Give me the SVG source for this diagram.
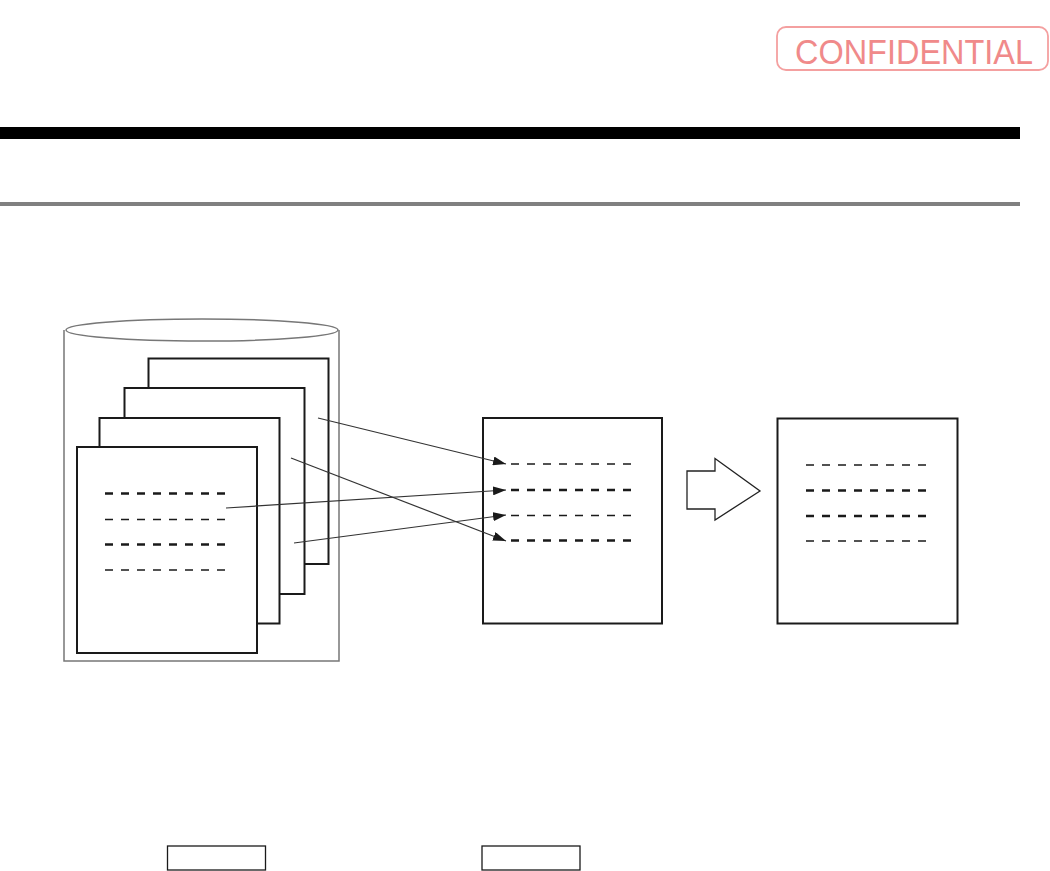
<svg xmlns="http://www.w3.org/2000/svg" width="1050" height="871" viewBox="0 0 1050 871">
<style>
.page{fill:#fff;stroke:#1a1a1a;stroke-width:2}
.thin{stroke:#1a1a1a;stroke-width:1.5;stroke-dasharray:8 8;fill:none}
.thick{stroke:#1a1a1a;stroke-width:2.4;stroke-dasharray:8 8;fill:none}
.conn{stroke:#333;stroke-width:1.2;fill:none;marker-end:url(#ah)}
.box{fill:#fff;stroke:#1a1a1a;stroke-width:1.3}
</style>
<defs>
<marker id="ah" viewBox="0 0 13 9" refX="13" refY="4.5" markerWidth="13" markerHeight="9" markerUnits="userSpaceOnUse" orient="auto">
<path d="M0,0 L13,4.5 L0,9 z" fill="#1a1a1a"/>
</marker>
</defs>
<rect width="1050" height="871" fill="#fff"/>
<g id="confidential">
<rect x="777" y="27" width="271" height="43" rx="9" ry="9" fill="none" stroke="#f4a0a0" stroke-width="1.8"/>
<text x="795" y="63.5" font-family="Liberation Sans, Arial, sans-serif" font-size="35" fill="#f08a8a" textLength="238" lengthAdjust="spacingAndGlyphs">CONFIDENTIAL</text>
</g>
<g id="header">
<rect x="0" y="127" width="1020" height="12" fill="#000"/>
<rect x="0" y="202" width="1020" height="4" fill="#808080"/>
</g>
<g id="database">
<path d="M64,330 L64,661 L339,661 L339,330" fill="#fff" stroke="#777" stroke-width="1.5"/>
<ellipse cx="202" cy="330" rx="136" ry="11" fill="#fff" stroke="#777" stroke-width="1.5"/>
</g>
<g id="page4"><rect class="page" x="148.5" y="358.5" width="180" height="205.5"/></g>
<g id="page3"><rect class="page" x="124.5" y="388" width="180" height="206"/></g>
<g id="page2"><rect class="page" x="99.5" y="418" width="180" height="205.5"/></g>
<g id="page1">
<rect class="page" x="77" y="447" width="180" height="206"/>
<line class="thick" x1="105" y1="493.5" x2="225" y2="493.5"/>
<line class="thin" x1="105" y1="519.5" x2="225" y2="519.5"/>
<line class="thick" x1="105" y1="544.5" x2="225" y2="544.5"/>
<line class="thin" x1="105" y1="570" x2="225" y2="570"/>
</g>
<g id="middle-page">
<rect class="page" x="483" y="418" width="179" height="205.5"/>
<line class="thin" x1="511" y1="464" x2="631" y2="464"/>
<line class="thick" x1="511" y1="490" x2="631" y2="490"/>
<line class="thin" x1="511" y1="515.5" x2="631" y2="515.5"/>
<line class="thick" x1="511" y1="540.5" x2="631" y2="540.5"/>
</g>
<g id="block-arrow">
<polygon points="687,471 715,471 715,458.5 760,491 715,520 715,509 687,509" fill="#fff" stroke="#222" stroke-width="1.3"/>
</g>
<g id="right-page">
<rect class="page" x="777.5" y="418.5" width="180" height="205"/>
<line class="thin" x1="806" y1="465" x2="926" y2="465"/>
<line class="thick" x1="806" y1="490.5" x2="926" y2="490.5"/>
<line class="thick" x1="806" y1="516" x2="926" y2="516"/>
<line class="thin" x1="806" y1="541" x2="926" y2="541"/>
</g>
<g id="connectors">
<line class="conn" x1="318" y1="418" x2="506" y2="464"/>
<line class="conn" x1="226" y1="508" x2="506" y2="490"/>
<line class="conn" x1="291" y1="458" x2="506" y2="541"/>
<line class="conn" x1="294" y1="543" x2="506" y2="515"/>
</g>
<g id="box1"><rect class="box" x="167.5" y="846" width="98" height="24"/></g>
<g id="box2"><rect class="box" x="482" y="846" width="98" height="24"/></g>
</svg>
